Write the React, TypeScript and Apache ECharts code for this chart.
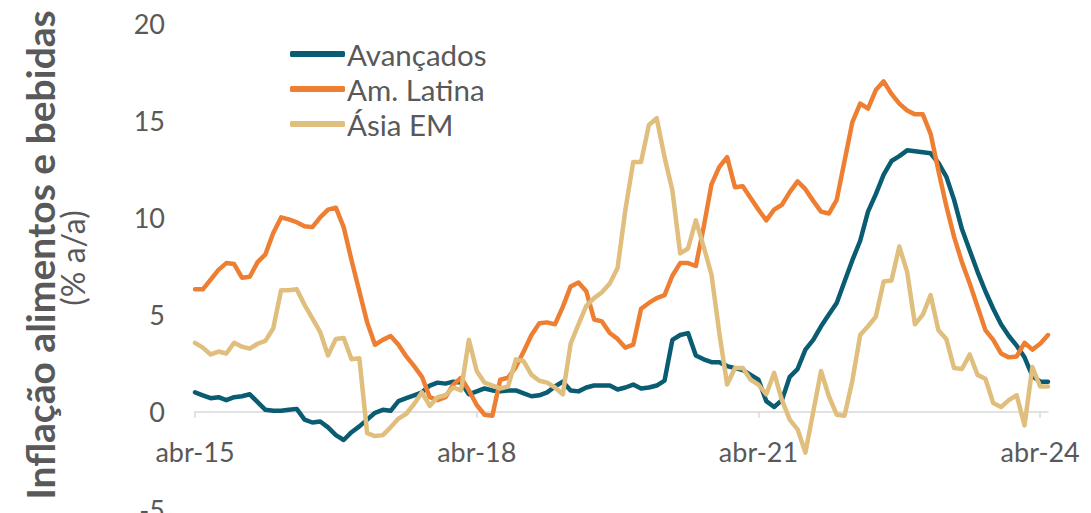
import React, { useEffect, useRef } from 'react';
import * as echarts from 'echarts';

const MONTHS = ['jan', 'fev', 'mar', 'abr', 'mai', 'jun', 'jul', 'ago', 'set', 'out', 'nov', 'dez'];
const START_YEAR = 2015;
const START_MONTH = 3; // abr
const N_MONTHS = 110; // abr-15 .. mai-24
const categories: string[] = Array.from({ length: N_MONTHS }, (_, i) => {
  const k = START_MONTH + i;
  const m = k % 12;
  const y = START_YEAR + Math.floor(k / 12);
  return `${MONTHS[m]}-${String(y % 100).padStart(2, '0')}`;
});
const tickLabels = ['abr-15', 'abr-18', 'abr-21', 'abr-24'];

const avancados = [
  1.0, 0.85, 0.7, 0.75, 0.6, 0.75, 0.8, 0.9, 0.5, 0.1, 0.05, 0.05, 0.1, 0.15, -0.4, -0.55, -0.5, -0.8, -1.2, -1.45,
  -1.05, -0.75, -0.4, -0.05, 0.1, 0.05, 0.55, 0.7, 0.85, 1.0, 1.35, 1.5, 1.45, 1.55, 1.5, 0.9, 1.05,
  1.2, 1.1, 1.05, 1.1, 1.1, 0.95, 0.8, 0.85, 1.0, 1.3, 1.55, 1.1, 1.05, 1.25, 1.35, 1.35, 1.35, 1.15,
  1.25, 1.4, 1.2, 1.25, 1.35, 1.6, 3.7, 3.95, 4.05, 2.9, 2.7, 2.55, 2.55, 2.35, 2.25, 2.15, 1.9, 1.65,
  0.55, 0.25, 0.6, 1.8, 2.2, 3.2, 3.7, 4.4, 5.0, 5.6, 6.7, 7.8, 8.8, 10.3, 11.2, 12.2, 12.9, 13.15,
  13.45, 13.4, 13.35, 13.3, 12.8, 12.1, 10.9, 9.4, 8.3, 7.2, 6.2, 5.3, 4.5, 3.9, 3.4, 2.8, 1.85, 1.55, 1.55,
];

const amLatina = [
  6.3, 6.3, 6.8, 7.3, 7.65, 7.6, 6.9, 6.95, 7.7, 8.1, 9.2, 10.0, 9.9, 9.75, 9.55, 9.5, 10.0, 10.4, 10.5, 9.5,
  7.8, 6.2, 4.6, 3.45, 3.7, 3.9, 3.45, 2.85, 2.35, 1.8, 0.75, 0.6, 0.75, 1.4, 1.75, 1.1, 0.35,
  -0.15, -0.2, 1.65, 1.75, 2.3, 3.1, 3.95, 4.55, 4.6, 4.5, 5.4, 6.45, 6.65, 6.2, 4.75, 4.65, 4.05, 3.75,
  3.3, 3.45, 5.3, 5.6, 5.85, 6.0, 7.0, 7.65, 7.65, 7.5, 9.5, 11.7, 12.6, 13.1, 11.55, 11.6, 11.0, 10.4,
  9.85, 10.4, 10.65, 11.3, 11.85, 11.45, 10.85, 10.3, 10.2, 10.9, 12.9, 14.9, 15.85, 15.6, 16.55, 17.0, 16.35, 15.85,
  15.5, 15.3, 15.3, 14.3, 12.4, 10.6, 9.0, 7.7, 6.6, 5.4, 4.2, 3.7, 3.0, 2.8, 2.85, 3.55, 3.2, 3.5, 3.95,
];

const asiaEM = [
  3.55, 3.3, 2.95, 3.1, 3.0, 3.55, 3.35, 3.25, 3.5, 3.65, 4.3, 6.25, 6.25, 6.3, 5.5, 4.8, 4.1, 2.9, 3.75, 3.8,
  2.7, 2.75, -1.1, -1.25, -1.2, -0.8, -0.35, -0.1, 0.4, 1.0, 0.3, 0.75, 0.85, 1.25, 1.1, 3.7, 2.1,
  1.5, 1.35, 1.2, 1.3, 2.7, 2.6, 1.9, 1.6, 1.5, 1.25, 0.9, 3.5, 4.5, 5.45, 5.85, 6.15, 6.6, 7.4,
  10.4, 12.85, 12.85, 14.75, 15.1, 13.1, 11.4, 8.15, 8.4, 9.85, 8.5, 7.05, 4.05, 1.4, 2.25, 2.25, 1.65, 1.4,
  0.9, 2.0, 0.6, -0.4, -0.9, -2.1, 0.0, 2.1, 0.8, -0.15, -0.2, 1.6, 3.95, 4.4, 4.9, 6.7, 6.75, 8.5,
  7.2, 4.5, 5.0, 6.0, 4.2, 3.75, 2.25, 2.2, 2.95, 1.9, 1.7, 0.45, 0.25, 0.6, 0.85, -0.7, 2.3, 1.3, 1.3,
];

const SERIES_NAMES = ['Avançados', 'Am. Latina', 'Ásia EM'];
const COLORS = ['#0A5C73', '#EE7F32', '#DFBE7E'];
const TEXT_COLOR = '#595959';
const FONT = 'Lato';

const Y_MIN = -5;
const Y_MAX = 20;
const GRID_TOP = 23;
const GRID_BOTTOM = 4;
const CHART_H = 513;

export default function App() {
  const ref = useRef<HTMLDivElement>(null);
  useEffect(() => {
    if (!ref.current) return;
    const chart = echarts.init(ref.current, undefined, { renderer: 'svg' });
    const showTick = (_idx: number, val: string) => tickLabels.includes(val);
    const data = [avancados, amLatina, asiaEM];
    // distance from the bottom of the grid up to the zero line (for the label axis)
    const plotH = CHART_H - GRID_TOP - GRID_BOTTOM;
    const zeroOffset = (plotH * (0 - Y_MIN)) / (Y_MAX - Y_MIN);
    chart.setOption({
      animation: false,
      grid: { left: 195, right: 43, top: GRID_TOP, bottom: GRID_BOTTOM, containLabel: false, outerBoundsMode: 'none' },
      legend: {
        orient: 'vertical',
        left: 285,
        top: 34,
        itemWidth: 55,
        itemHeight: 6,
        itemGap: 5,
        icon: 'roundRect',
        textStyle: { fontFamily: FONT, fontSize: 29.5, color: TEXT_COLOR, padding: [0, 0, 0, -3] },
        data: SERIES_NAMES,
      },
      xAxis: [
        {
          type: 'category',
          data: categories,
          boundaryGap: false,
          axisLine: { onZero: true, lineStyle: { color: '#D9D9D9', width: 1.5 } },
          axisTick: { show: true, interval: showTick, length: 6, lineStyle: { color: '#D9D9D9', width: 1.5 } },
          axisLabel: { show: false },
          splitLine: { show: false },
        },
        {
          type: 'category',
          data: categories,
          boundaryGap: false,
          position: 'bottom',
          offset: -zeroOffset,
          axisLine: { show: false, onZero: false },
          axisTick: { show: false },
          axisLabel: {
            interval: showTick,
            margin: 26,
            fontFamily: FONT,
            fontSize: 27,
            color: TEXT_COLOR,
          },
          splitLine: { show: false },
        },
      ],
      yAxis: {
        type: 'value',
        min: Y_MIN,
        max: Y_MAX,
        interval: 5,
        axisLine: { show: false },
        axisTick: { show: false },
        splitLine: { show: false },
        axisLabel: { margin: 30, fontFamily: FONT, fontSize: 27, color: TEXT_COLOR },
      },
      graphic: [
        {
          type: 'text',
          x: 40,
          y: 255,
          rotation: Math.PI / 2,
          style: {
            text: 'Inflação alimentos e bebidas',
            fontFamily: FONT,
            fontWeight: 'bold',
            fontSize: 39,
            fill: TEXT_COLOR,
            align: 'center',
            verticalAlign: 'middle',
          },
        },
        {
          type: 'text',
          x: 72,
          y: 258,
          rotation: Math.PI / 2,
          style: {
            text: '(% a/a)',
            fontFamily: FONT,
            fontSize: 32,
            fill: TEXT_COLOR,
            align: 'center',
            verticalAlign: 'middle',
          },
        },
      ],
      series: SERIES_NAMES.map((name, k) => ({
        name,
        type: 'line',
        xAxisIndex: 0,
        data: data[k],
        showSymbol: false,
        symbol: 'none',
        color: COLORS[k],
        lineStyle: { width: 4.5, color: COLORS[k], cap: 'round', join: 'round' },
      })),
    });
    return () => chart.dispose();
  }, []);
  return (
    <div
      ref={ref}
      style={{ position: 'fixed', left: 0, top: 0, width: 1091, height: CHART_H, background: '#fff' }}
    />
  );
}
